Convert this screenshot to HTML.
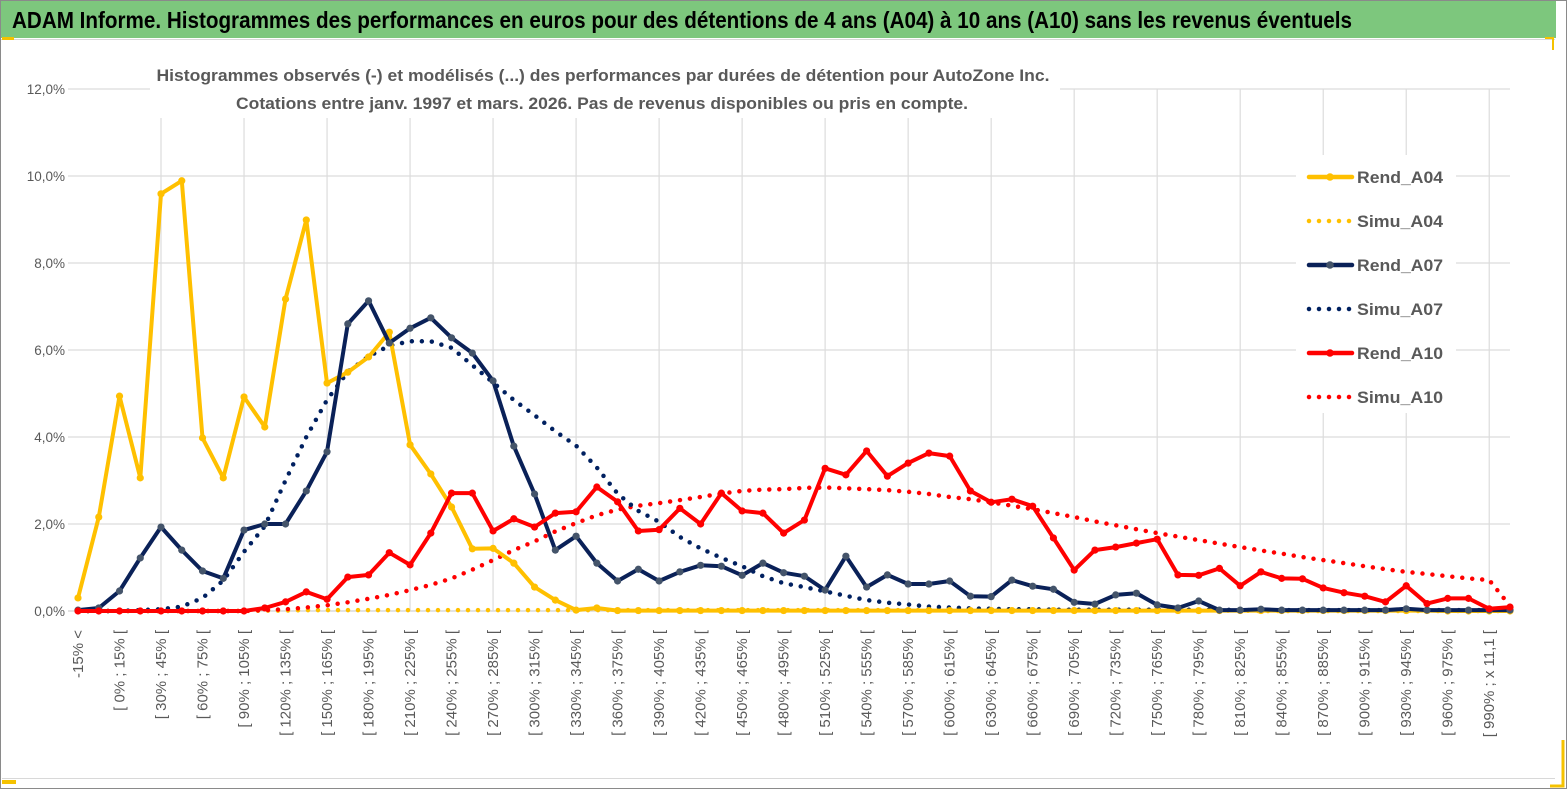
<!DOCTYPE html>
<html><head><meta charset="utf-8"><style>
html,body{margin:0;padding:0;background:#fff}
svg{display:block;font-family:"Liberation Sans",sans-serif}
</style></head><body>
<svg id="chart" width="1567" height="789" viewBox="0 0 1567 789">
<rect x="0.5" y="0.5" width="1566" height="788" fill="#fff" stroke="#8a8a8a"/>
<rect x="1" y="1" width="1555" height="37" fill="#7dc77d"/>
<line x1="1" y1="39.5" x2="1555" y2="39.5" stroke="#d8d8d8"/>
<rect x="2" y="37" width="12" height="3" fill="#f5c200"/>
<path d="M1545 38 H1553 V50" fill="none" stroke="#f5c200" stroke-width="2"/>
<path d="M1563 740 V786 H1550" fill="none" stroke="#f5c200" stroke-width="3"/>
<rect x="2" y="780" width="14" height="4" fill="#f5c200"/>
<line x1="2" y1="778.5" x2="1555" y2="778.5" stroke="#d8d8d8"/>
<text x="12" y="28" font-size="23" font-weight="bold" fill="#000" textLength="1340" lengthAdjust="spacingAndGlyphs">ADAM Informe. Histogrammes des performances en euros pour des détentions de 4 ans (A04) à 10 ans (A10) sans les revenus éventuels</text>
<g id="grid"></g>
<g id="yaxis"></g>
<g id="xaxis"></g>
<g id="series"></g>
<rect x="150" y="58" width="910" height="60" fill="#fff"/>
<text x="603" y="81" text-anchor="middle" font-size="17" font-weight="bold" fill="#595959" textLength="893" lengthAdjust="spacingAndGlyphs">Histogrammes observés (-) et modélisés (...) des performances par durées de détention pour AutoZone Inc.</text>
<text x="602" y="109" text-anchor="middle" font-size="17" font-weight="bold" fill="#595959" textLength="732" lengthAdjust="spacingAndGlyphs">Cotations entre janv. 1997 et mars. 2026. Pas de revenus disponibles ou pris en compte.</text>
<g id="legend"></g>
</svg>
<script>
const categories = [];
categories.push("-15% <");
categories.push("[ -15% ; 0% [");
for (let v = 0; v <= 990; v += 15) { categories.push(v === 990 ? "[ 990% ; x 11,1 [" : "[ " + v + "% ; " + (v + 15) + "% ["); }
categories.push("x 11,1 <");
const yTicks = [0, 2, 4, 6, 8, 10, 12];
const yTickLabels = ["0,0%", "2,0%", "4,0%", "6,0%", "8,0%", "10,0%", "12,0%"];
const rendA04 = [0.3,2.16,4.94,3.06,9.59,9.89,3.98,3.06,4.92,4.23,7.17,8.99,5.24,5.49,5.84,6.41,3.82,3.15,2.39,1.43,1.44,1.1,0.55,0.25,0.02,0.07,0.01,0.01,0.01,0.01,0.01,0.01,0.01,0.01,0.01,0.01,0.01,0.01,0.01,0.01,0.01,0.01,0.01,0.01,0.01,0.01,0.01,0.01,0.01,0.01,0.01,0.01,0.01,0.01,0.01,0.01,0.01,0.01,0.01,0.01,0.01,0.01,0.01,0.01,0.01,0.01,0,0,0,0];
const simuA04 = [0,0,0,0,0,0,0,0,0,0.01,0.01,0.02,0.02,0.02,0.02,0.02,0.02,0.02,0.02,0.02,0.02,0.02,0.02,0.02,0.02,0.02,0.02,0.02,0.02,0.02,0.02,0.02,0.02,0.02,0.02,0.02,0.02,0.02,0.02,0.02,0.02,0.02,0.02,0.02,0.02,0.02,0.02,0.02,0.02,0.02,0.02,0.02,0.02,0.02,0.02,0.01,0.01,0,0,0,0,0,0,0,0,0,0,0,0,0];
const rendA07 = [0.02,0.07,0.46,1.22,1.93,1.4,0.92,0.75,1.86,2.0,2.0,2.76,3.66,6.6,7.13,6.16,6.5,6.74,6.28,5.93,5.29,3.79,2.69,1.4,1.72,1.1,0.69,0.96,0.69,0.9,1.05,1.03,0.82,1.1,0.88,0.8,0.48,1.26,0.55,0.83,0.62,0.62,0.69,0.34,0.33,0.71,0.57,0.5,0.2,0.16,0.37,0.41,0.14,0.07,0.23,0.02,0.02,0.04,0.02,0.02,0.02,0.02,0.02,0.02,0.05,0.02,0.02,0.02,0.02,0.02];
const simuA07 = [0,0,0,0.02,0.04,0.1,0.3,0.7,1.36,1.95,3.0,4.0,4.85,5.5,5.85,6.1,6.2,6.2,6.05,5.65,5.25,4.85,4.5,4.13,3.8,3.3,2.7,2.3,2.05,1.7,1.44,1.22,1.03,0.8,0.64,0.55,0.45,0.35,0.25,0.19,0.15,0.1,0.08,0.06,0.05,0.04,0.04,0.03,0.03,0.03,0.03,0.03,0.03,0.03,0.03,0.03,0.02,0.02,0.02,0.02,0.02,0.02,0.02,0.02,0.02,0.02,0.02,0.02,0.02,0.02];
const rendA10 = [0,0,0,0,0,0,0,0,0,0.07,0.21,0.44,0.27,0.78,0.83,1.34,1.06,1.79,2.71,2.71,1.84,2.12,1.93,2.25,2.28,2.85,2.51,1.84,1.87,2.36,2.0,2.71,2.3,2.25,1.79,2.09,3.28,3.13,3.68,3.1,3.4,3.63,3.56,2.76,2.5,2.57,2.41,1.68,0.94,1.4,1.47,1.56,1.65,0.83,0.82,0.98,0.58,0.9,0.75,0.74,0.53,0.42,0.34,0.21,0.58,0.17,0.29,0.29,0.05,0.09];
const simuA10 = [0,0,0,0,0,0,0,0,0,0.02,0.04,0.08,0.13,0.2,0.28,0.37,0.48,0.6,0.75,0.95,1.17,1.4,1.6,1.83,2.02,2.2,2.33,2.42,2.48,2.55,2.62,2.7,2.76,2.79,2.8,2.83,2.84,2.82,2.8,2.78,2.74,2.69,2.62,2.57,2.5,2.42,2.34,2.25,2.16,2.06,1.97,1.88,1.79,1.71,1.63,1.55,1.47,1.39,1.32,1.24,1.17,1.1,1.03,0.96,0.9,0.85,0.8,0.75,0.71,0.12];
const seriesNames = ["Rend_A04","Simu_A04","Rend_A07","Simu_A07","Rend_A10","Simu_A10"];

const NS = "http://www.w3.org/2000/svg";
const X0 = 78, X1 = 1510, Y0 = 611, Y1 = 89, YMAX = 12;
function xScale(i){ return X0 + i * (X1 - X0) / (categories.length - 1); }
function yScale(v){ return Y0 - v * (Y0 - Y1) / YMAX; }
function mk(tag, attrs, parent){ const e = document.createElementNS(NS, tag); for (const k in attrs) e.setAttribute(k, attrs[k]); parent.appendChild(e); return e; }

const grid = document.getElementById('grid');
yTicks.forEach((t, k) => {
  const l = mk('line', {x1: 68, x2: X1, y1: yScale(t), y2: yScale(t), stroke: t === 0 ? '#d0d0d0' : '#dcdcdc', 'stroke-width': 1.2}, grid);
  
  
});
for (let i = 4; i < categories.length; i += 4) {
  const l = mk('line', {x1: xScale(i), x2: xScale(i), y1: Y1, y2: Y0, stroke: '#dcdcdc', 'stroke-width': 1.2}, grid);
  
  
}
const yaxis = document.getElementById('yaxis');
yTicks.forEach((t, k) => {
  const tx = mk('text', {x: 65, y: yScale(t) + 5, 'text-anchor': 'end', 'font-size': 13.5, fill: '#595959'}, yaxis);
  tx.textContent = yTickLabels[k];
  
  
});
const xaxis = document.getElementById('xaxis');
categories.forEach((c, i) => {
  if (i % 2 !== 0) return;
  const x = xScale(i) + 5;
  const tx = mk('text', {x: x, y: 630, transform: 'rotate(-90 ' + x + ' 630)', 'text-anchor': 'end', 'font-size': 15, fill: '#595959'}, xaxis);
  tx.textContent = c;
  
  
});

const series = document.getElementById('series');
function drawLine(data, color, markerColor, name){
  const g = mk('g', {}, series);
  
  
  const pts = data.map((v, i) => xScale(i).toFixed(1) + ',' + yScale(v).toFixed(1)).join(' ');
  const pl = mk('polyline', {points: pts, fill: 'none', stroke: color, 'stroke-width': 4, 'stroke-linejoin': 'round'}, g);
  
  
  data.forEach((v, i) => {
    const c = mk('circle', {cx: xScale(i), cy: yScale(v), r: 3.6, fill: markerColor}, g);
    
    
  });
}
function drawDotted(data, color, name){
  const pts = data.map((v, i) => xScale(i).toFixed(1) + ',' + yScale(v).toFixed(1)).join(' ');
  const pl = mk('polyline', {points: pts, fill: 'none', stroke: color, 'stroke-width': 4.5, 'stroke-linecap': 'round', 'stroke-dasharray': '0 10'}, series);
  
  
}
drawDotted(simuA04, '#ffc000', 'simu-a04-line');
drawDotted(simuA10, '#ff0000', 'simu-a10-line');
drawDotted(simuA07, '#002060', 'simu-a07-line');
drawLine(rendA04, '#ffc000', '#ffc000', 'rend-a04');
drawLine(rendA07, '#0a2158', '#44546a', 'rend-a07');
drawLine(rendA10, '#ff0000', '#ff0000', 'rend-a10');

const legend = document.getElementById('legend');
const lg = mk('rect', {x: 1296, y: 155, width: 160, height: 258, fill: '#fff'}, legend);


const legColors = ['#ffc000','#ffc000','#0a2158','#002060','#ff0000','#ff0000'];
const legMarker = ['#ffc000','#ffc000','#44546a','#002060','#ff0000','#ff0000'];
seriesNames.forEach((n, k) => {
  const y = 177 + k * 44;
  const g = mk('g', {}, legend);
  
  
  if (k % 2 === 0) {
    mk('line', {x1: 1309, x2: 1352, y1: y, y2: y, stroke: legColors[k], 'stroke-width': 4.5, 'stroke-linecap': 'round'}, g);
    mk('circle', {cx: 1330, cy: y, r: 3.8, fill: legMarker[k]}, g);
  } else {
    mk('line', {x1: 1309, x2: 1352, y1: y, y2: y, stroke: legColors[k], 'stroke-width': 4.5, 'stroke-linecap': 'round', 'stroke-dasharray': '0 10'}, g);
  }
  const t = mk('text', {x: 1357, y: y + 6, 'font-size': 17, 'font-weight': 'bold', fill: '#595959', textLength: 86, lengthAdjust: 'spacingAndGlyphs'}, g);
  t.textContent = n;
});
</script>
</body></html>
